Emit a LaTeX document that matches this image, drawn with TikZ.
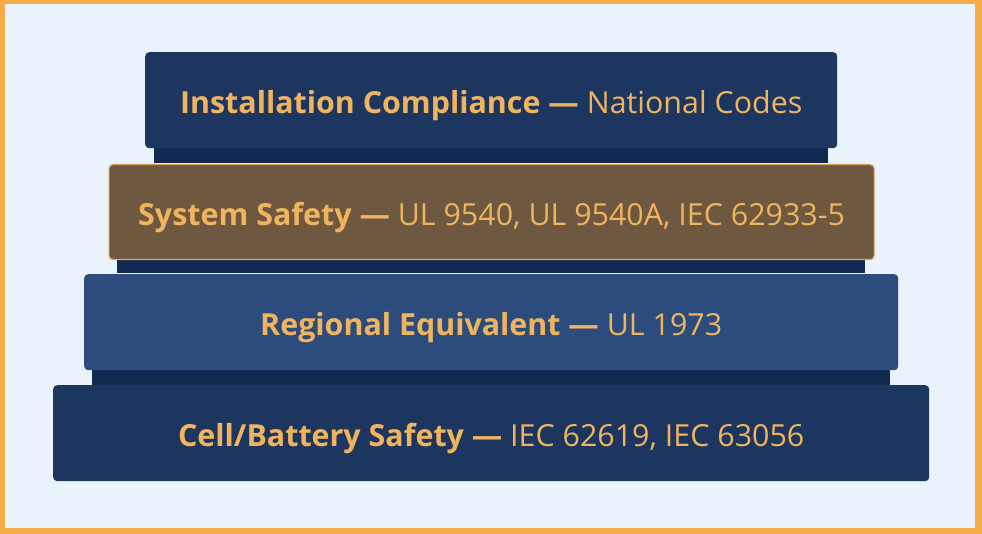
\documentclass[tikz,border=0pt]{standalone}
\usepackage{fontspec}
\setmainfont{Open Sans}
\definecolor{bgc}{HTML}{EAF2FB}
\definecolor{framec}{HTML}{F6AC48}
\definecolor{navy}{HTML}{1D3660}
\definecolor{strip}{HTML}{122A52}
\definecolor{brownc}{HTML}{6E5940}
\definecolor{brownedge}{HTML}{D8A257}
\definecolor{midblue}{HTML}{2B4C7D}
\definecolor{txt}{HTML}{F1B45E}
\begin{document}
\begin{tikzpicture}[x=1pt,y=-1pt,
  bar/.style={rounded corners=4pt, draw=none},
  stripbox/.style={fill=strip, draw=none},
  lbl/.style={text=txt, font=\fontsize{30.4}{36}\selectfont, inner sep=0pt, anchor=base}]
\useasboundingbox (0,0) rectangle (982,534);
\fill[framec] (0,0) rectangle (982,534);
\fill[bgc] (5,4) rectangle (975,528);
% strips
\fill[stripbox] (154,145) rectangle (828,163);
\fill[stripbox] (117,255) rectangle (865,273);
\fill[stripbox] (92,366) rectangle (890,385);
% bars
\node[bar, fill=navy, minimum width=692pt, minimum height=96pt, anchor=north west] (b1) at (145,52) {};
\node[bar, fill=brownc, draw=brownedge, line width=1.2pt, minimum width=765pt, minimum height=95pt, anchor=north west] (b2) at (108.5,164) {};
\node[bar, fill=midblue, minimum width=814pt, minimum height=96pt, anchor=north west] (b3) at (84,274) {};
\node[bar, fill=navy, minimum width=876pt, minimum height=96pt, anchor=north west] (b4) at (53,385) {};
% labels
\node[lbl] (t1) at ([yshift=-61.5pt]b1.north) {\textbf{Installation Compliance —} National Codes};
\node[lbl] (t2) at ([yshift=-62pt]b2.north) {\textbf{System Safety —} UL 9540, UL 9540A, IEC 62933-5};
\node[lbl] (t3) at ([yshift=-61.5pt]b3.north) {\textbf{Regional Equivalent —} UL 1973};
\node[lbl] (t4) at ([yshift=-61.5pt]b4.north) {\textbf{Cell/Battery Safety —} IEC 62619, IEC 63056};
\end{tikzpicture}
\end{document}
